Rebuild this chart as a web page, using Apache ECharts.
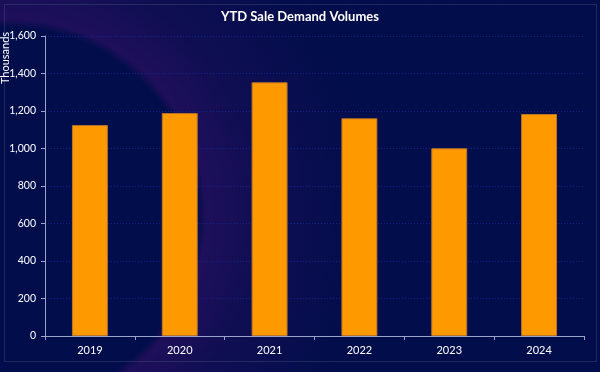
<!DOCTYPE html>
<html><head><meta charset="utf-8">
<script src="https://cdn.jsdelivr.net/npm/echarts@6/dist/echarts.min.js"></script>
<style>html,body{margin:0;padding:0;background:#020d4b}#c{width:600px;height:372px}</style>
</head><body><div id="c"></div>
<script>
const categories = ['2019','2020','2021','2022','2023','2024'];
const values = [1125, 1189, 1353, 1161, 1001, 1184];
const yTicks = [0, 200, 400, 600, 800, 1000, 1200, 1400, 1600];
const titleText = 'YTD Sale Demand Volumes';
const yName = 'Thousands';

const chart = echarts.init(document.getElementById('c'), null, {renderer:'canvas'});
const font = 'Lato, "Open Sans", sans-serif';
chart.setOption({
  animation:false,
  backgroundColor:'#020d4b',
  title:{text:titleText,left:'center',top:5,textStyle:{color:'#ffffff',fontSize:13,fontWeight:'bold',fontFamily:font}},
  graphic:[
    {type:'circle',z:-10,silent:true,shape:{cx:10,cy:215,r:360},
     style:{fill:new echarts.graphic.RadialGradient(0.5,0.5,0.5,[
       {offset:0,color:'rgba(40,16,96,0)'},
       {offset:0.52,color:'rgba(40,16,96,0)'},
       {offset:0.545,color:'rgba(40,16,96,0.75)'},
       {offset:0.7,color:'rgba(40,16,96,0.35)'},
       {offset:1,color:'rgba(40,16,96,0)'}])}},
    {type:'rect',z:-5,silent:true,shape:{x:4.5,y:4.5,width:592,height:357},
     style:{fill:null,stroke:'#3d4775',lineWidth:1,lineDash:[1,1]}},
    {type:'text',x:5,y:58,rotation:Math.PI/2,silent:true,
     style:{text:yName,fill:'#ffffff',font:'11px '+font,align:'center',verticalAlign:'middle'}}
  ],
  grid:{left:45,right:16,top:36,bottom:36,containLabel:false},
  xAxis:{type:'category',data:categories,
    axisLine:{lineStyle:{color:'#9aa3c8',width:1}},
    axisTick:{show:true,alignWithLabel:false,length:4,lineStyle:{color:'#9aa3c8'}},
    axisLabel:{color:'#ffffff',fontSize:11,fontFamily:font,margin:9}},
  yAxis:{type:'value',min:0,max:1600,interval:200,
    axisLine:{show:true,lineStyle:{color:'#9aa3c8'}},
    axisTick:{show:true,length:4,lineStyle:{color:'#9aa3c8'}},
    axisLabel:{color:'#ffffff',fontSize:10.5,fontFamily:font,margin:9,
      formatter:v=>yTicks.includes(v)?v.toLocaleString('en-US'):''},
    splitLine:{show:true,lineStyle:{color:'#13228a',type:[1,2],width:1}}},
  series:[{type:'bar',data:values,barWidth:'40%',
    itemStyle:{color:'#ff9900',borderColor:'#b8752a',borderWidth:1}}]
});
</script></body></html>
